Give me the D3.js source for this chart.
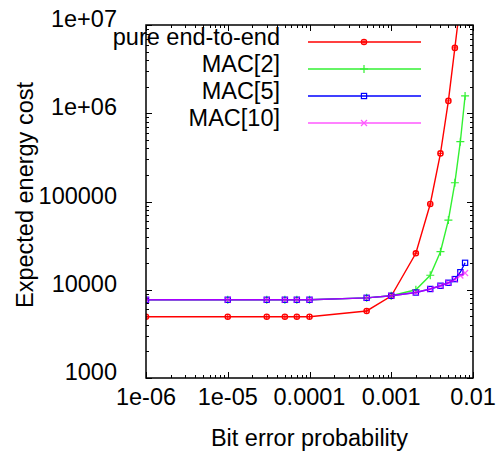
<!DOCTYPE html>
<html>
<head>
<meta charset="utf-8">
<script src="https://cdn.jsdelivr.net/npm/d3@7"></script>
<style>
  body { margin: 0; background: #fff; }
  text { font-family: "Liberation Sans", Arial, sans-serif; fill: #000; }
</style>
</head>
<body>
<div id="chart"></div>
<script>
// bit error probabilities (x) shared by every series
var berValues = [1e-6, 1e-5, 3e-5, 5e-5, 7e-5, 1e-4, 5e-4, 1e-3, 2e-3, 3e-3, 4e-3, 5e-3, 6e-3, 7e-3, 8e-3];

// expected energy cost per series
var pureEndToEnd = [4950, 4950, 4950, 4950, 4950, 4950, 5750, 8500, 25900, 93700, 351000, 1380000, 5500000, 18000000, 60000000];
var mac2 = [7700, 7700, 7700, 7700, 7700, 7700, 8100, 8550, 10000, 14600, 27000, 61600, 163000, 476000, 1570000];
var mac5 = [7700, 7700, 7700, 7700, 7700, 7700, 8100, 8550, 9300, 10200, 11100, 12000, 13200, 15800, 20200];
var mac10 = [7700, 7700, 7700, 7700, 7700, 7700, 8100, 8550, 9300, 10200, 11100, 12000, 13100, 14500, 15500];

var seriesNames = ["pure end-to-end", "MAC[2]", "MAC[5]", "MAC[10]"];

var xTickValues = [1e-6, 1e-5, 1e-4, 1e-3, 1e-2];
var xTickLabels = ["1e-06", "1e-05", "0.0001", "0.001", "0.01"];
var yTickValues = [1e3, 1e4, 1e5, 1e6, 1e7];
var yTickLabels = ["1000", "10000", "100000", "1e+06", "1e+07"];

var svgWidth = 499;
var svgHeight = 453;
var fontSize = 23.5;

var margin = { top: 25, right: 26, bottom: 75, left: 146 };
var width = svgWidth - margin.left - margin.right;
var height = svgHeight - margin.top - margin.bottom;

var svg = d3.select("#chart")
  .append("svg")
  .attr("width", svgWidth)
  .attr("height", svgHeight);

var chartGroup = svg.append("g")
  .attr("transform", `translate(${margin.left}, ${margin.top})`);

var xScale = d3.scaleLog().domain([1e-6, 1e-2]).range([0, width]);
var yScale = d3.scaleLog().domain([1e3, 1e7]).range([height, 0]);

// minor ticks 2..9 within each decade
function minorTicks(lo, hi) {
  var out = [];
  for (var d = lo; d < hi; d *= 10) {
    for (var k = 2; k <= 9; k++) out.push(d * k);
  }
  return out;
}
var xMinor = minorTicks(1e-6, 1e-2);
var yMinor = minorTicks(1e3, 1e7);

var tickGroup = chartGroup.append("g")
  .attr("stroke", "#000")
  .attr("stroke-width", 1);

// x ticks, bottom and mirrored top
[[xTickValues, 6], [xMinor, 3]].forEach(function(t) {
  t[0].forEach(function(v) {
    var x = Math.round(xScale(v)) + 0.5;
    tickGroup.append("line").attr("x1", x).attr("x2", x).attr("y1", height).attr("y2", height - t[1]);
    tickGroup.append("line").attr("x1", x).attr("x2", x).attr("y1", 0).attr("y2", t[1]);
  });
});

// y ticks, left and mirrored right
[[yTickValues, 6], [yMinor, 3]].forEach(function(t) {
  t[0].forEach(function(v) {
    var y = Math.round(yScale(v)) + 0.5;
    tickGroup.append("line").attr("y1", y).attr("y2", y).attr("x1", 0).attr("x2", t[1]);
    tickGroup.append("line").attr("y1", y).attr("y2", y).attr("x1", width).attr("x2", width - t[1]);
  });
});

// tick labels
chartGroup.selectAll(".xlab")
  .data(xTickValues)
  .enter()
  .append("text")
  .attr("x", d => xScale(d))
  .attr("y", height + 27)
  .attr("text-anchor", "middle")
  .attr("font-size", fontSize)
  .text((d, i) => xTickLabels[i]);

chartGroup.selectAll(".ylab")
  .data(yTickValues)
  .enter()
  .append("text")
  .attr("x", -29)
  .attr("y", d => yScale(d) + 2)
  .attr("text-anchor", "end")
  .attr("font-size", fontSize)
  .text((d, i) => yTickLabels[i]);

// axis titles
chartGroup.append("text")
  .attr("x", width / 2)
  .attr("y", height + 68)
  .attr("text-anchor", "middle")
  .attr("font-size", fontSize)
  .text("Bit error probability");

chartGroup.append("text")
  .attr("transform", "rotate(-90)")
  .attr("x", -170)
  .attr("y", -113)
  .attr("text-anchor", "middle")
  .attr("font-size", fontSize)
  .text("Expected energy cost");

// clip the data to the plot box
chartGroup.append("clipPath")
  .attr("id", "plotClip")
  .append("rect")
  .attr("width", width)
  .attr("height", height);

var series = [
  { name: seriesNames[0], values: pureEndToEnd, color: "#ff0000", opacity: 1, marker: "circle" },
  { name: seriesNames[1], values: mac2, color: "#00ee00", opacity: 0.8, marker: "plus" },
  { name: seriesNames[2], values: mac5, color: "#0000ff", opacity: 1, marker: "square" },
  { name: seriesNames[3], values: mac10, color: "#ff00ff", opacity: 0.65, marker: "cross" }
];

var line = d3.line()
  .x(d => xScale(d[0]))
  .y(d => yScale(d[1]));

function drawMarker(g, type, x, y, color) {
  if (type === "circle") {
    g.append("circle").attr("cx", x).attr("cy", y).attr("r", 2.6)
      .attr("fill", "none").attr("stroke", color).attr("stroke-width", 1.4);
    g.append("path").attr("d", `M${x - 2.6},${y}H${x + 2.6}M${x},${y - 2.6}V${y + 2.6}`)
      .attr("stroke", color).attr("stroke-width", 1);
  }
  else if (type === "plus") {
    g.append("path").attr("d", `M${x - 4},${y}H${x + 4}M${x},${y - 4}V${y + 4}`)
      .attr("stroke", color).attr("stroke-width", 1.2);
  }
  else if (type === "square") {
    g.append("rect").attr("x", x - 2.6).attr("y", y - 2.6).attr("width", 5.2).attr("height", 5.2)
      .attr("fill", "none").attr("stroke", color).attr("stroke-width", 1.2);
  }
  else {
    g.append("path").attr("d", `M${x - 3},${y - 3}L${x + 3},${y + 3}M${x - 3},${y + 3}L${x + 3},${y - 3}`)
      .attr("stroke", color).attr("stroke-width", 1.2);
  }
}

var dataGroup = chartGroup.append("g").attr("clip-path", "url(#plotClip)");

series.forEach(function(s) {
  var pts = berValues.map((x, i) => [x, s.values[i]]);
  var g = dataGroup.append("g").attr("opacity", s.opacity);
  g.append("path")
    .datum(pts)
    .attr("d", line)
    .attr("fill", "none")
    .attr("stroke", s.color)
    .attr("stroke-width", 1.4);
  pts.forEach(function(p) {
    drawMarker(g, s.marker, xScale(p[0]), yScale(p[1]), s.color);
  });
});

// legend, right-aligned text with a sample line
var legendRows = [42, 69, 96, 123];
series.forEach(function(s, i) {
  var y = legendRows[i] - margin.top;
  chartGroup.append("text")
    .attr("x", 280 - margin.left)
    .attr("y", y + 3)
    .attr("text-anchor", "end")
    .attr("font-size", fontSize)
    .text(s.name);
  var g = chartGroup.append("g").attr("opacity", s.opacity);
  g.append("line")
    .attr("x1", 308 - margin.left)
    .attr("x2", 421 - margin.left)
    .attr("y1", y)
    .attr("y2", y)
    .attr("stroke", s.color)
    .attr("stroke-width", 1.4);
  drawMarker(g, s.marker, 364 - margin.left, y, s.color);
});

// plot border
chartGroup.append("rect")
  .attr("x", 0)
  .attr("y", 0)
  .attr("width", width)
  .attr("height", height)
  .attr("fill", "none")
  .attr("stroke", "#000")
  .attr("stroke-width", 1.5);
</script>
</body>
</html>
